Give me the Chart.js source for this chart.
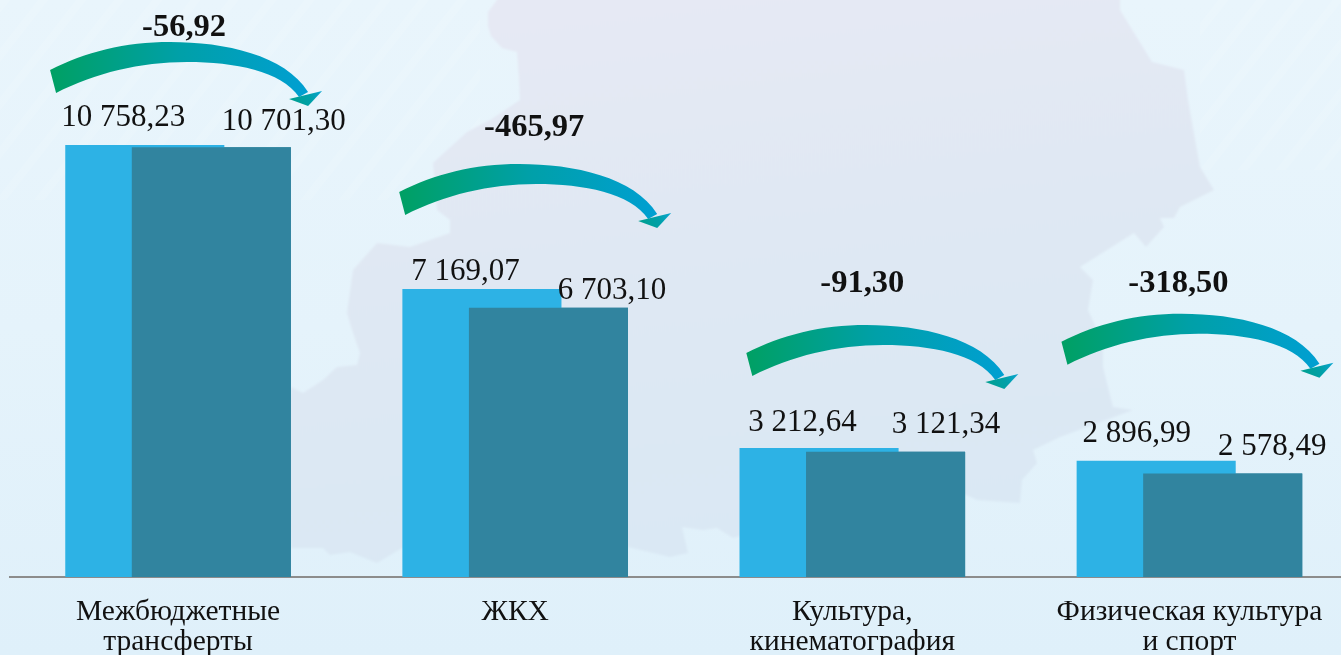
<!DOCTYPE html>
<html lang="ru">
<head>
<meta charset="utf-8">
<title>Расходы</title>
<script src="https://cdn.jsdelivr.net/npm/chart.js@4"></script>
<style>
html,body{margin:0;padding:0;width:1341px;height:655px;overflow:hidden;background:#e4f3fb}
#bg{position:absolute;left:0;top:0;width:1341px;height:655px}
#c{position:absolute;left:0;top:0}
</style>
</head>
<body>
<svg id="bg" viewBox="0 0 1341 655" xmlns="http://www.w3.org/2000/svg">
  <defs>
    <linearGradient id="page" x1="0" y1="0" x2="0" y2="1">
      <stop offset="0" stop-color="#e9f5fc"/><stop offset="0.5" stop-color="#e5f3fb"/><stop offset="1" stop-color="#dff0fa"/>
    </linearGradient>
    <linearGradient id="land" x1="0.5" y1="0" x2="0.7" y2="1">
      <stop offset="0" stop-color="#e6e9f4"/><stop offset="0.45" stop-color="#dfe8f3"/><stop offset="1" stop-color="#d9e8f4"/>
    </linearGradient>
    <pattern id="streak" width="30" height="30" patternUnits="userSpaceOnUse" patternTransform="rotate(-52)">
      <rect width="30" height="8" fill="#ffffff" opacity="0.18"/>
    </pattern>
    <filter id="soft" x="-5%" y="-5%" width="110%" height="110%"><feGaussianBlur stdDeviation="1.2"/></filter>
  </defs>
  <rect width="1341" height="655" fill="url(#page)"/>
  <rect x="0" y="0" width="480" height="200" fill="url(#streak)" opacity="0.5"/>
  <rect x="1200" y="0" width="141" height="170" fill="url(#streak)" opacity="0.5"/>
  <polygon filter="url(#soft)" fill="url(#land)" points="497,-20 497,0 488,12 488,26 491,36 502,48 517,52 519,78 520,100 490,120 467,132 433,163 437,210 450,220 450,233 410,247 377,243 353,270 347,313 352,330 360,353 357,365 337,367 323,380 303,393 291,387 285,450 291,548 323,548 330,555 350,552 377,563 402,548 500,552 628,547 670,557 688,553 682,527 703,530 717,528 733,538 800,520 900,490 960,492 977,500 1020,503 1022,480 1037,463 1033,450 1060,437 1133,410 1113,407 1103,367 1103,343 1088,310 1093,280 1080,267 1134,233 1146,247 1164,227 1160,218 1174,218 1180,207 1214,190 1200,167 1188,100 1184,70 1152,62 1120,10 1120,-20"/>
</svg>
<canvas id="c" width="1358" height="655"></canvas>
<script>
// Data
const categories = [["Межбюджетные","трансферты"],["ЖКХ"],["Культура,","кинематография"],["Физическая культура","и спорт"]];
const valuesPrev = [10758.23, 7169.07, 3212.64, 2896.99];
const valuesCurr = [10701.30, 6703.10, 3121.34, 2578.49];
const deltas = [-56.92, -465.97, -91.30, -318.50];

// Annotation placement, relative to each bar / category
const prevLabelShift = [[-21.5,-27],[-16.5,-17],[-16.5,-25],[-19.5,-27]];
const currLabelShift = [[72.5,-25],[63.5,-17],[60.5,-27],[49.5,-26.5]];
const deltaShift = [[6,-117],[19,-161],[10,-164],[-11,-177]];
const arrowShift = [[-128,-75],[-116,-97],[-106,-95],[-128,-119]];

const fmt = v => {
  const s = Math.abs(v).toFixed(2).split('.');
  return (v < 0 ? '-' : '') + s[0].replace(/\B(?=(\d{3})+$)/g, ' ') + ',' + s[1];
};
const SERIF = '"Liberation Serif", serif';

function drawArrow(ctx, ox, oy) {
  ctx.save();
  ctx.translate(ox, oy);
  const g = ctx.createLinearGradient(0, 0, 258, 0);
  g.addColorStop(0, '#00a063');
  g.addColorStop(0.5, '#00a0a8');
  g.addColorStop(1, '#009fd2');
  ctx.fillStyle = g;
  ctx.beginPath();
  ctx.moveTo(0, 0);
  ctx.bezierCurveTo(35, -18, 75, -28, 120, -28);
  ctx.bezierCurveTo(175, -28, 235, -15, 258, 22);
  ctx.lineTo(249, 27);
  ctx.bezierCurveTo(231, 1, 185, -8, 137, -8);
  ctx.bezierCurveTo(90, -8, 45, 3, 6, 23);
  ctx.closePath();
  ctx.fill();
  const h = ctx.createLinearGradient(239, 33, 272, 21);
  h.addColorStop(0, '#00a08e');
  h.addColorStop(0.6, '#00a0a8');
  h.addColorStop(1, '#0aa5d2');
  ctx.fillStyle = h;
  ctx.beginPath();
  ctx.moveTo(272, 21);
  ctx.lineTo(239, 29);
  ctx.lineTo(258, 36);
  ctx.closePath();
  ctx.fill();
  ctx.restore();
}

const annotations = {
  id: 'annotations',
  afterDatasetsDraw(chart) {
    const ctx = chart.ctx;
    // the second series overlaps the first one
    chart.getDatasetMeta(1).controller.draw();
    const a = chart.getDatasetMeta(0).data;
    const b = chart.getDatasetMeta(1).data;
    const xs = chart.scales.x;
    ctx.save();
    ctx.textAlign = 'center';
    ctx.textBaseline = 'middle';
    categories.forEach((_, i) => {
      const cx = xs.getPixelForTick(i);
      drawArrow(ctx, cx + arrowShift[i][0], a[i].y + arrowShift[i][1]);
      ctx.fillStyle = '#111111';
      ctx.font = '31px ' + SERIF;
      ctx.fillText(fmt(valuesPrev[i]), a[i].x + prevLabelShift[i][0], a[i].y + prevLabelShift[i][1]);
      ctx.fillText(fmt(valuesCurr[i]), b[i].x + currLabelShift[i][0], b[i].y + currLabelShift[i][1]);
      ctx.font = 'bold 32.5px ' + SERIF;
      ctx.fillText(fmt(deltas[i]), cx + deltaShift[i][0], a[i].y + deltaShift[i][1]);
    });
    ctx.restore();
  }
};

new Chart(document.getElementById('c'), {
  type: 'bar',
  data: {
    labels: categories,
    datasets: [
      { label: '2023', data: valuesPrev, backgroundColor: '#2db2e5', categoryPercentage: 0.3947, barPercentage: 2.391 },
      { label: '2024', data: valuesCurr, backgroundColor: '#31849f', categoryPercentage: 0.3947, barPercentage: 2.391 }
    ]
  },
  options: {
    responsive: false,
    animation: false,
    layout: { padding: { left: 9.5, right: 0, top: 0, bottom: 0 } },
    plugins: { legend: { display: false }, tooltip: { enabled: false } },
    scales: {
      y: { display: false, min: 0, max: 14367, grid: { display: false } },
      x: {
        grid: { display: false, drawTicks: false },
        border: { display: true, color: '#8c8c8c', width: 2 },
        afterFit(s) { s.height = 78; },
        ticks: {
          autoSkip: false, maxRotation: 0, minRotation: 0, padding: 20,
          color: '#111111',
          font: { family: SERIF, size: 29.5, lineHeight: 1.02 }
        }
      }
    }
  },
  plugins: [annotations]
});
</script>
</body>
</html>
